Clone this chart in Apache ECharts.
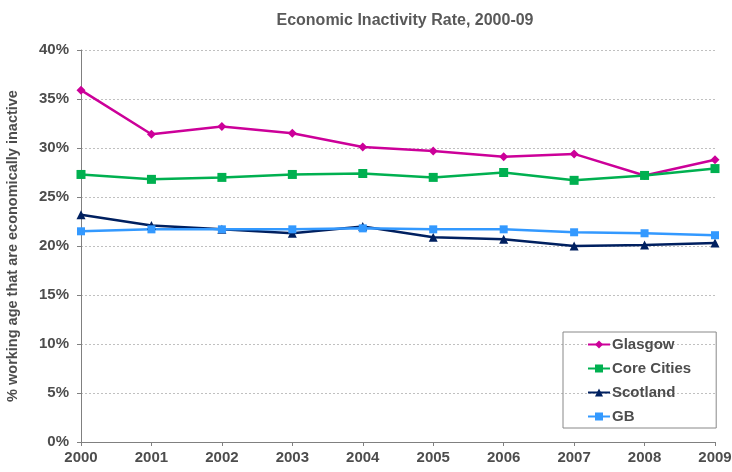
<!DOCTYPE html>
<html>
<head>
<meta charset="utf-8">
<script src="https://cdn.jsdelivr.net/npm/echarts@6/dist/echarts.min.js"></script>
<style>html,body{margin:0;padding:0;background:#fff}#chart{width:732px;height:472px}</style>
</head>
<body>
<div id="chart"></div>
<script>
const years = ['2000','2001','2002','2003','2004','2005','2006','2007','2008','2009'];
const glasgow = [35.9, 31.4, 32.2, 31.5, 30.1, 29.7, 29.1, 29.4, 27.2, 28.8];
const coreCities = [27.3, 26.8, 27.0, 27.3, 27.4, 27.0, 27.5, 26.7, 27.2, 27.9];
const scotland = [23.2, 22.1, 21.7, 21.3, 22.0, 20.9, 20.7, 20.0, 20.1, 20.3];
const gb = [21.5, 21.7, 21.7, 21.7, 21.8, 21.7, 21.7, 21.4, 21.3, 21.1];

const font = 'Liberation Sans, Arial, sans-serif';
const textColor = '#4d4d4d';

function line(name, data, color, symbol, size) {
  return {
    name, type: 'line', data, symbol, symbolSize: size,
    itemStyle: { color },
    lineStyle: { color, width: 2.5 },
    emphasis: { disabled: true }
  };
}

const chart = echarts.init(document.getElementById('chart'));
chart.setOption({
  animation: false,
  title: {
    text: 'Economic Inactivity Rate, 2000-09',
    left: 400, top: 8, textAlign: 'center',
    textStyle: { fontFamily: font, fontSize: 16, fontWeight: 'bold', color: '#595959' }
  },
  grid: { left: 81, right: 17, top: 50, bottom: 30, outerBoundsMode: 'none' },
  legend: {
    orient: 'vertical', left: 563, top: 332, width: 153, height: 95,
    padding: [5, 25, 4, 24], itemGap: 9, itemWidth: 22, itemHeight: 10,
    borderColor: '#888', borderWidth: 1,
    textStyle: { fontFamily: font, fontSize: 15, fontWeight: 'bold', color: textColor, padding: [0, 0, 0, -3] },
    data: ['Glasgow', 'Core Cities', 'Scotland', 'GB']
  },
  xAxis: {
    type: 'category', data: years, boundaryGap: false,
    axisLine: { lineStyle: { color: '#808080', width: 1 } },
    axisTick: { show: true, length: 4, lineStyle: { color: '#808080' } },
    axisLabel: { fontFamily: font, fontSize: 15, fontWeight: 'bold', color: textColor, margin: 8 }
  },
  yAxis: {
    type: 'value', min: 0, max: 40, interval: 5,
    name: '% working age that are economically inactive',
    nameLocation: 'middle', nameGap: 61,
    nameTextStyle: { fontFamily: font, fontSize: 14.5, fontWeight: 'bold', color: textColor },
    axisLine: { show: true, lineStyle: { color: '#808080', width: 1 } },
    axisTick: { show: true, length: 4, lineStyle: { color: '#808080' } },
    axisLabel: { fontFamily: font, fontSize: 15, fontWeight: 'bold', color: textColor, formatter: '{value}%', margin: 12 },
    splitLine: { lineStyle: { color: '#c0c0c0', type: [2, 2] } }
  },
  series: [
    line('Glasgow', glasgow, '#CC0099', 'diamond', 9),
    line('Core Cities', coreCities, '#00B050', 'rect', 9),
    line('Scotland', scotland, '#002060', 'triangle', 9),
    line('GB', gb, '#3399FF', 'rect', 8)
  ]
});
</script>
</body>
</html>
